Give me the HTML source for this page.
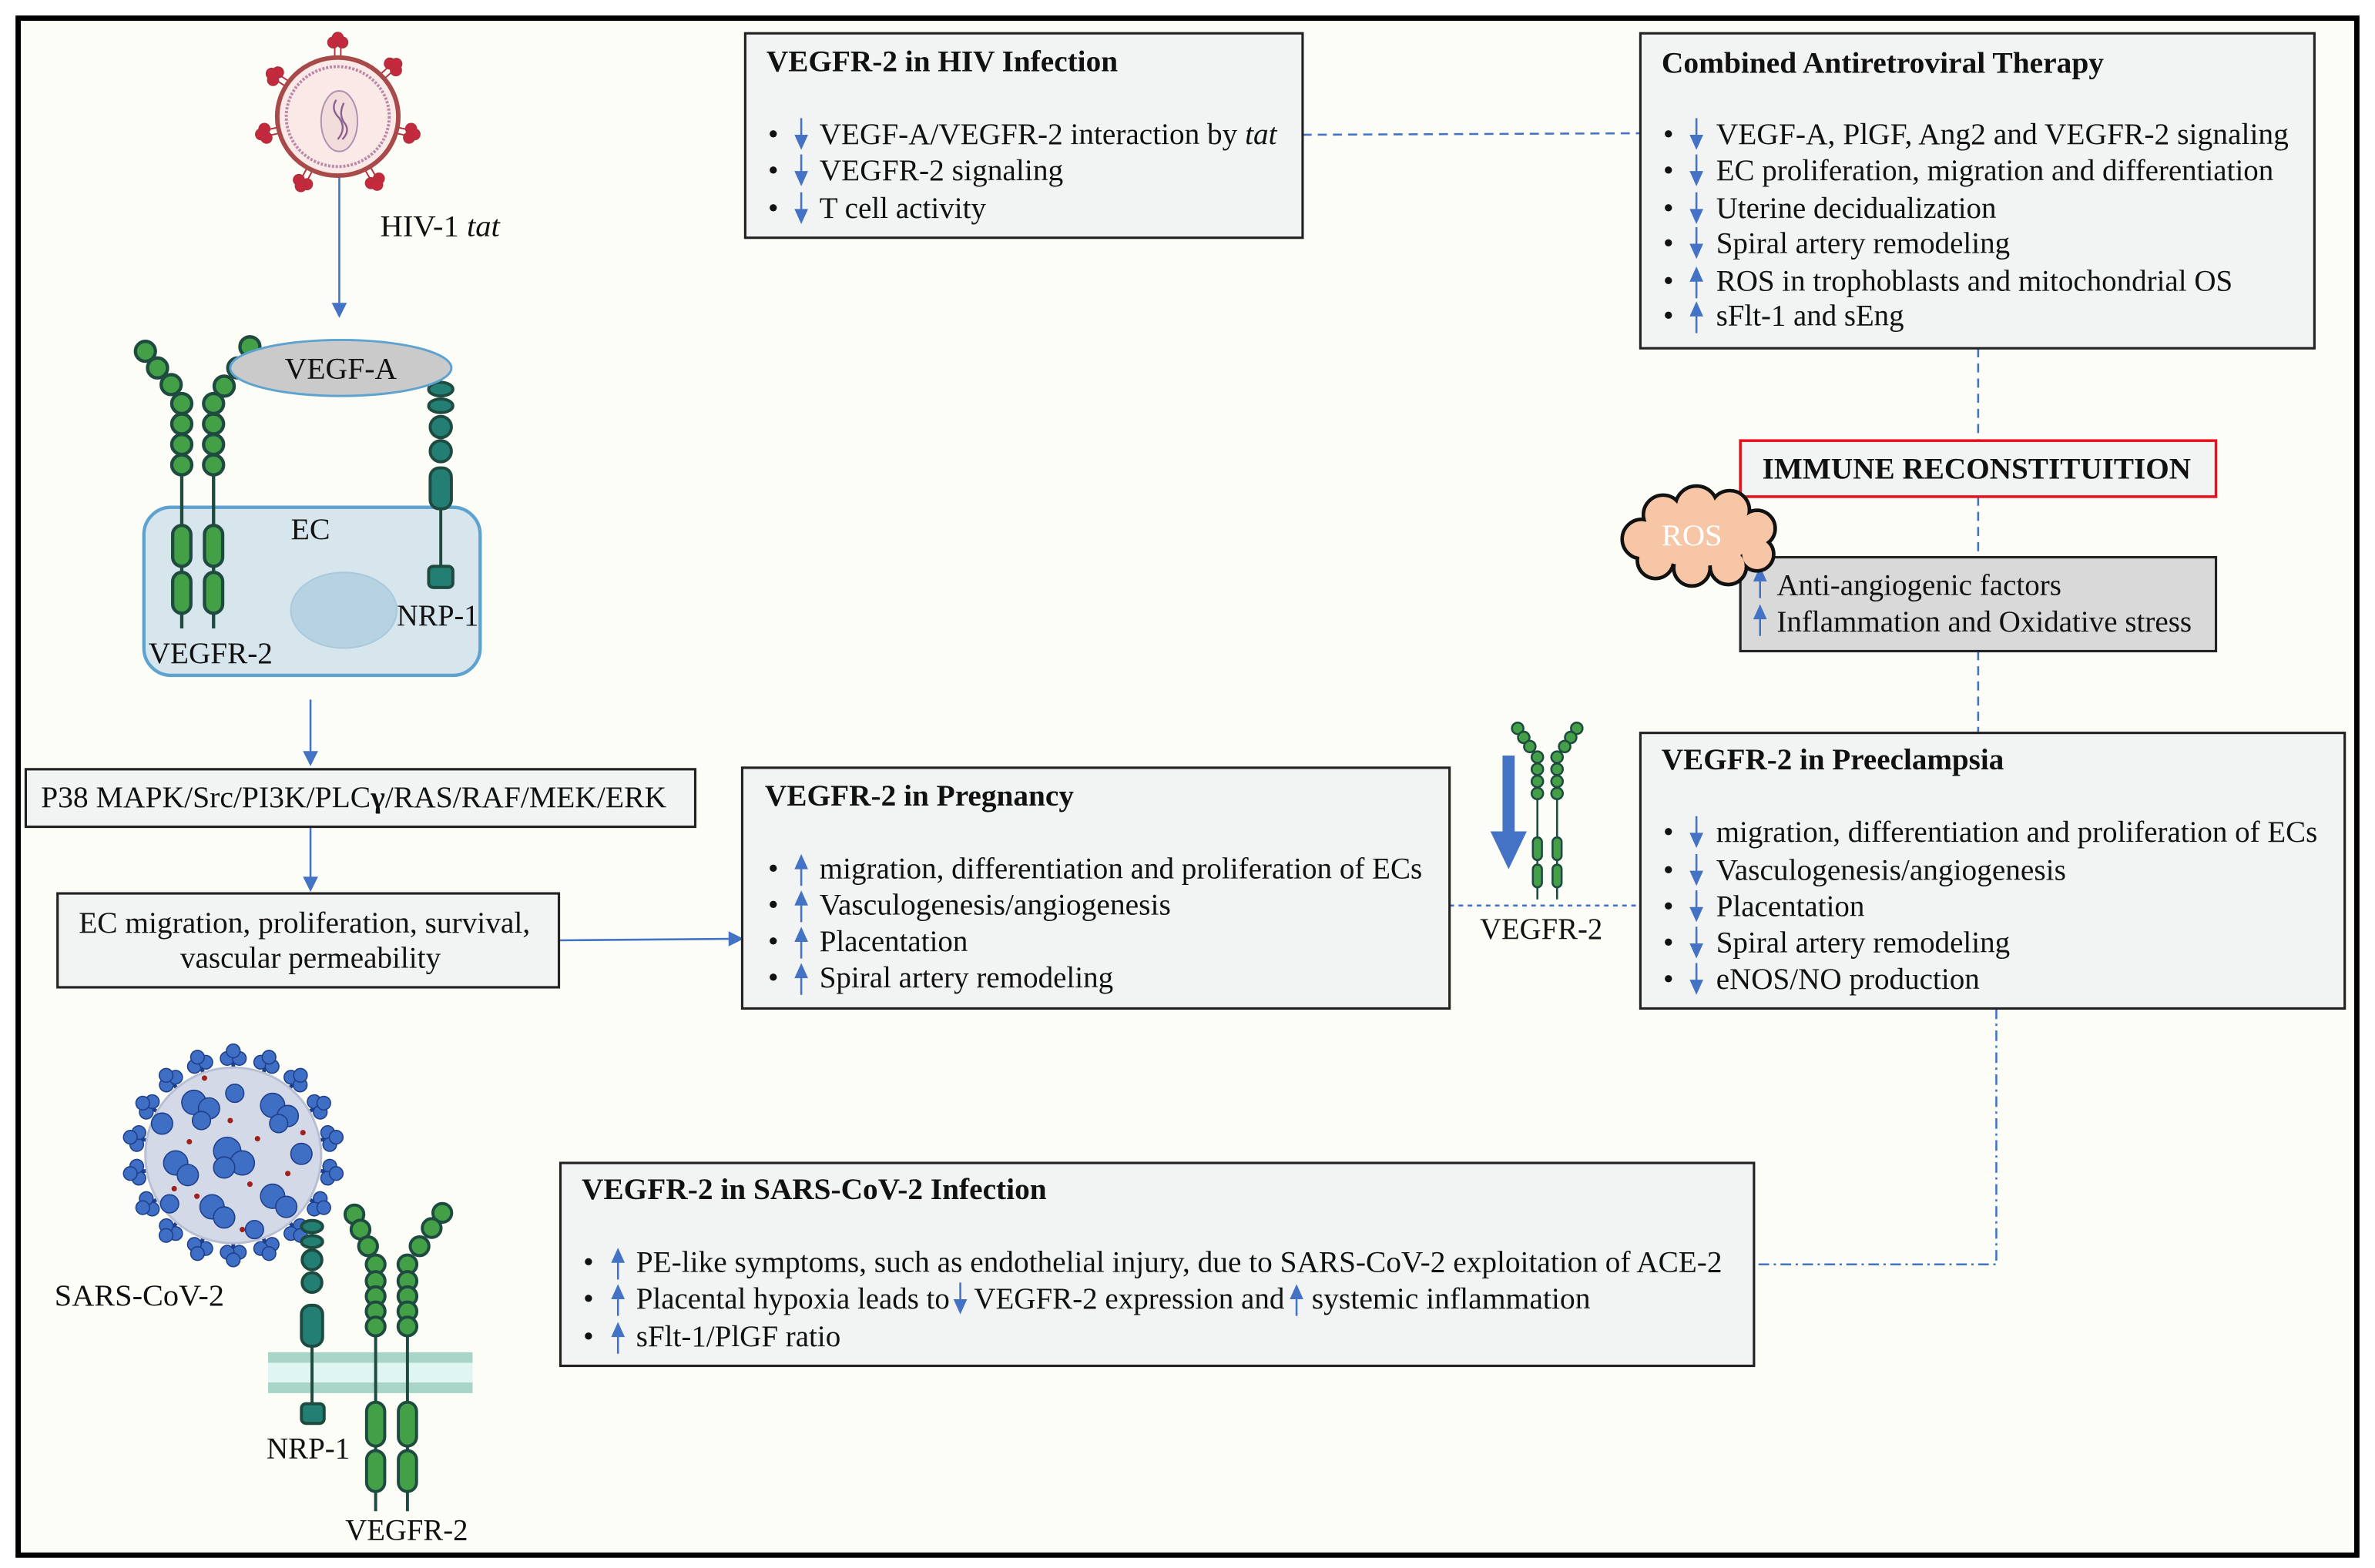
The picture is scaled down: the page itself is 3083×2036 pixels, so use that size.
<!DOCTYPE html>
<html><head><meta charset="utf-8"><style>
html,body{margin:0;padding:0;background:#fff}
svg{display:block;font-family:"Liberation Serif","Times New Roman",serif}
svg text{font-family:"Liberation Serif","Times New Roman",serif;fill:#111}
.t{font-weight:bold;font-size:20px}
.b{font-size:20px}
</style></head><body>
<svg width="3083" height="2036" viewBox="0 0 1568 1035.5" xmlns="http://www.w3.org/2000/svg" font-family="Liberation Serif, serif">
<defs>
<g id="dn"><line x1="0" y1="-11" x2="0" y2="2" stroke="#4472c4" stroke-width="1.3"/><path d="M-4.5,0 L4.5,0 L0,10 Z" fill="#4472c4"/></g>
<g id="up"><line x1="0" y1="11" x2="0" y2="-2" stroke="#4472c4" stroke-width="1.3"/><path d="M-4.5,0 L4.5,0 L0,-10 Z" fill="#4472c4"/></g>
<g id="ah"><path d="M-5,-10 L5,-10 L0,0 Z" fill="#4472c4"/></g>
<g id="hs" fill="#c8283c" stroke="#b03040" stroke-width="1"><line x1="-2" y1="-38" x2="-2" y2="-46"/><line x1="2" y1="-38" x2="2" y2="-46"/><circle cx="-3" cy="-49" r="3.5"/><circle cx="3" cy="-49" r="3.5"/><circle cx="0" cy="-52" r="3.5"/></g>
<g id="ss"><line x1="0" y1="-52" x2="0" y2="-62" stroke="#1f3f8a" stroke-width="2.5"/><g fill="#3f6fc4" stroke="#1f3f8a" stroke-width="0.8"><circle cx="-4" cy="-64" r="4.5"/><circle cx="4" cy="-64" r="4.5"/><circle cx="0" cy="-69" r="4.5"/></g></g>
</defs>
<rect x="0" y="0" width="1568" height="1035.5" fill="#fff"/>
<rect x="12" y="12" width="1544" height="1015" fill="#fdfdf8" stroke="#000" stroke-width="3.5"/>

<g stroke="#4472c4" stroke-width="1.3" fill="none">
<line x1="860" y1="89" x2="1083" y2="88" stroke-dasharray="6,4"/>
<line x1="1306" y1="230" x2="1306" y2="291" stroke-dasharray="6,4"/>
<line x1="1306" y1="328" x2="1306" y2="368" stroke-dasharray="6,4"/>
<line x1="1306" y1="430" x2="1306" y2="484" stroke-dasharray="6,4"/>
<line x1="957" y1="598" x2="1083" y2="598" stroke-dasharray="3,3"/>
<path d="M1318,666 L1318,835 L1158,835" stroke-dasharray="7,3,1.5,3"/>
<line x1="224" y1="100" x2="224" y2="202"/>
<line x1="205" y1="462" x2="205" y2="497"/>
<line x1="205" y1="546" x2="205" y2="580"/>
<line x1="369" y1="621" x2="482" y2="620"/>
</g>
<use href="#ah" x="224" y="210"/>
<use href="#ah" x="205" y="506"/>
<use href="#ah" x="205" y="589"/>
<path d="M481,615 L491,620 L481,625 Z" fill="#4472c4"/>

<!-- HIV virus -->
<g transform="translate(223,77)">
<use href="#hs" transform="rotate(0)"/><use href="#hs" transform="rotate(48)"/><use href="#hs" transform="rotate(103)"/><use href="#hs" transform="rotate(150)"/><use href="#hs" transform="rotate(208)"/><use href="#hs" transform="rotate(257)"/><use href="#hs" transform="rotate(303)"/>
</g>
<ellipse cx="223" cy="77" rx="40" ry="39" fill="#fbe9e8" stroke="#a84a4a" stroke-width="3"/>
<ellipse cx="223" cy="77" rx="34" ry="33" fill="none" stroke="#b88aa8" stroke-width="2" stroke-dasharray="1.5,1"/>
<ellipse cx="224" cy="80" rx="12" ry="20" fill="#f2dcdc" stroke="#b090b0" stroke-width="1"/>
<path d="M222,66 q-4,6 2,12 q5,7 -1,14 M227,68 q-4,8 1,14 q3,5 -2,10" stroke="#8a6090" stroke-width="1.2" fill="none"/>
<text class="b" x="251" y="156" textLength="79" lengthAdjust="spacingAndGlyphs">HIV-1 <tspan font-style="italic">tat</tspan></text>

<!-- cell -->
<rect x="95" y="335" width="222" height="111" rx="18" fill="#d7e5ed" stroke="#5ea3d0" stroke-width="2.2"/>
<ellipse cx="227" cy="403" rx="35" ry="25" fill="#b7d3e2" stroke="#a8c8dc" stroke-width="1"/>
<g stroke="#1e4a40" stroke-width="2.2" fill="#43a047">
<line x1="120" y1="300" x2="120" y2="415"/>
<line x1="141" y1="300" x2="141" y2="415"/>
<circle cx="96" cy="232" r="6.6"/><circle cx="104" cy="243" r="6.6"/><circle cx="113" cy="254" r="6.6"/>
<circle cx="120" cy="266.5" r="6.6"/><circle cx="120" cy="280" r="6.6"/><circle cx="120" cy="293.5" r="6.6"/><circle cx="120" cy="307" r="6.6"/>
<circle cx="165" cy="229" r="6.6"/><circle cx="157" cy="243" r="6.6"/><circle cx="148" cy="255" r="6.6"/>
<circle cx="141" cy="266.5" r="6.6"/><circle cx="141" cy="280" r="6.6"/><circle cx="141" cy="293.5" r="6.6"/><circle cx="141" cy="307" r="6.6"/>
<rect x="114" y="347" width="12" height="27" rx="6"/><rect x="114" y="378" width="12" height="27" rx="6"/>
<rect x="135" y="347" width="12" height="27" rx="6"/><rect x="135" y="378" width="12" height="27" rx="6"/>
</g>
<g stroke="#1e4a40" stroke-width="2" fill="#237f73">
<line x1="291" y1="330" x2="291" y2="378"/>
<ellipse cx="291" cy="257" rx="8" ry="4.5"/><ellipse cx="291" cy="268" rx="8" ry="4.5"/>
<circle cx="291" cy="282" r="7"/><circle cx="291" cy="298" r="7"/>
<rect x="284" y="309" width="14" height="27" rx="6"/>
<rect x="283" y="374" width="16" height="14" rx="3"/>
</g>
<ellipse cx="225" cy="243" rx="73" ry="18.5" fill="#cacaca" stroke="#5ea3d0" stroke-width="1.5"/>
<text class="b" x="225" y="250" text-anchor="middle" textLength="74" lengthAdjust="spacingAndGlyphs">VEGF-A</text>
<text class="b" x="192" y="356" textLength="26" lengthAdjust="spacingAndGlyphs">EC</text>
<text class="b" x="262" y="413" textLength="54" lengthAdjust="spacingAndGlyphs">NRP-1</text>
<text class="b" x="98" y="438" textLength="82" lengthAdjust="spacingAndGlyphs">VEGFR-2</text>

<!-- HIV box -->
<rect x="492" y="22" width="368" height="135" fill="#f2f4f4" stroke="#222" stroke-width="1.6"/>
<text class="t" x="506" y="47" textLength="232" lengthAdjust="spacingAndGlyphs">VEGFR-2 in HIV Infection</text>
<text class="b" x="507" y="95">•</text><use href="#dn" x="529" y="89"/><text class="b" x="541" y="95" textLength="302" lengthAdjust="spacingAndGlyphs">VEGF-A/VEGFR-2 interaction by <tspan font-style="italic">tat</tspan></text>
<text class="b" x="507" y="119">•</text><use href="#dn" x="529" y="113"/><text class="b" x="541" y="119" textLength="161" lengthAdjust="spacingAndGlyphs">VEGFR-2 signaling</text>
<text class="b" x="507" y="144">•</text><use href="#dn" x="529" y="138"/><text class="b" x="541" y="144" textLength="110" lengthAdjust="spacingAndGlyphs">T cell activity</text>

<!-- CART box -->
<rect x="1083" y="22" width="445" height="208" fill="#f2f4f4" stroke="#222" stroke-width="1.6"/>
<text class="t" x="1097" y="48" textLength="292" lengthAdjust="spacingAndGlyphs">Combined Antiretroviral Therapy</text>
<text class="b" x="1098" y="95">•</text><use href="#dn" x="1120" y="89"/><text class="b" x="1133" y="95" textLength="378" lengthAdjust="spacingAndGlyphs">VEGF-A, PlGF, Ang2 and VEGFR-2 signaling</text>
<text class="b" x="1098" y="119">•</text><use href="#dn" x="1120" y="113"/><text class="b" x="1133" y="119" textLength="368" lengthAdjust="spacingAndGlyphs">EC proliferation, migration and differentiation</text>
<text class="b" x="1098" y="144">•</text><use href="#dn" x="1120" y="138"/><text class="b" x="1133" y="144" textLength="185" lengthAdjust="spacingAndGlyphs">Uterine decidualization</text>
<text class="b" x="1098" y="167">•</text><use href="#dn" x="1120" y="161"/><text class="b" x="1133" y="167" textLength="194" lengthAdjust="spacingAndGlyphs">Spiral artery remodeling</text>
<text class="b" x="1098" y="192">•</text><use href="#up" x="1120" y="186"/><text class="b" x="1133" y="192" textLength="341" lengthAdjust="spacingAndGlyphs">ROS in trophoblasts and mitochondrial OS</text>
<text class="b" x="1098" y="215">•</text><use href="#up" x="1120" y="209"/><text class="b" x="1133" y="215" textLength="124" lengthAdjust="spacingAndGlyphs">sFlt-1 and sEng</text>

<rect x="1149" y="291" width="314" height="37" fill="#f2f4f4" stroke="#e8101c" stroke-width="1.8"/>
<text class="t" x="1305" y="316" text-anchor="middle" textLength="283" lengthAdjust="spacingAndGlyphs">IMMUNE RECONSTITUITION</text>

<rect x="1149" y="368" width="314" height="62" fill="#d9d9d9" stroke="#222" stroke-width="1.6"/>
<use href="#up" x="1162" y="384"/><text class="b" x="1173" y="393" textLength="188" lengthAdjust="spacingAndGlyphs">Anti-angiogenic factors</text>
<use href="#up" x="1162" y="409"/><text class="b" x="1173" y="417" textLength="274" lengthAdjust="spacingAndGlyphs">Inflammation and Oxidative stress</text>

<!-- ROS cloud -->
<g stroke="#111" stroke-width="2.4" fill="#f7c6a6">
<circle cx="1084" cy="356" r="13"/><circle cx="1098" cy="340" r="13"/><circle cx="1120" cy="335" r="14"/><circle cx="1142" cy="337" r="13"/><circle cx="1160" cy="349" r="12"/><circle cx="1160" cy="366" r="11"/><circle cx="1141" cy="374" r="12"/><circle cx="1117" cy="375" r="12"/><circle cx="1093" cy="370" r="12"/>
</g>
<g fill="#f7c6a6">
<circle cx="1084" cy="356" r="11.8"/><circle cx="1098" cy="340" r="11.8"/><circle cx="1120" cy="335" r="12.8"/><circle cx="1142" cy="337" r="11.8"/><circle cx="1160" cy="349" r="10.8"/><circle cx="1160" cy="366" r="9.8"/><circle cx="1141" cy="374" r="10.8"/><circle cx="1117" cy="375" r="10.8"/><circle cx="1093" cy="370" r="10.8"/>
<ellipse cx="1120" cy="356" rx="36" ry="18"/>
</g>
<text class="b" x="1097" y="360" style="fill:#fff" textLength="40" lengthAdjust="spacingAndGlyphs">ROS</text>

<rect x="17" y="508" width="442" height="38" fill="#f2f4f4" stroke="#222" stroke-width="1.6"/>
<text class="b" x="27" y="533" textLength="413" lengthAdjust="spacingAndGlyphs">P38 MAPK/Src/PI3K/PLC<tspan font-weight="bold">γ</tspan>/RAS/RAF/MEK/ERK</text>
<rect x="38" y="590" width="331" height="62" fill="#f2f4f4" stroke="#222" stroke-width="1.6"/>
<text class="b" x="52" y="616" textLength="298" lengthAdjust="spacingAndGlyphs">EC migration, proliferation, survival,</text>
<text class="b" x="119" y="639" textLength="172" lengthAdjust="spacingAndGlyphs">vascular permeability</text>

<rect x="490" y="507" width="467" height="159" fill="#f2f4f4" stroke="#222" stroke-width="1.6"/>
<text class="t" x="505" y="532" textLength="204" lengthAdjust="spacingAndGlyphs">VEGFR-2 in Pregnancy</text>
<text class="b" x="507" y="580">•</text><use href="#up" x="529" y="574"/><text class="b" x="541" y="580" textLength="398" lengthAdjust="spacingAndGlyphs">migration, differentiation and proliferation of ECs</text>
<text class="b" x="507" y="604">•</text><use href="#up" x="529" y="598"/><text class="b" x="541" y="604" textLength="232" lengthAdjust="spacingAndGlyphs">Vasculogenesis/angiogenesis</text>
<text class="b" x="507" y="628">•</text><use href="#up" x="529" y="622"/><text class="b" x="541" y="628" textLength="98" lengthAdjust="spacingAndGlyphs">Placentation</text>
<text class="b" x="507" y="652">•</text><use href="#up" x="529" y="646"/><text class="b" x="541" y="652" textLength="194" lengthAdjust="spacingAndGlyphs">Spiral artery remodeling</text>

<path d="M992,499 L1000,499 L1000,549 L1008,549 L996,574 L984,549 L992,549 Z" fill="#4472c4"/>
<g stroke="#1e4a40" stroke-width="1.3" fill="#43a047">
<line x1="1015" y1="520" x2="1015" y2="594"/><line x1="1028" y1="520" x2="1028" y2="594"/>
<circle cx="1002" cy="481" r="3.8"/><circle cx="1006" cy="487" r="3.8"/><circle cx="1010" cy="493" r="3.8"/>
<circle cx="1015" cy="500" r="3.8"/><circle cx="1015" cy="508" r="3.8"/><circle cx="1015" cy="516" r="3.8"/><circle cx="1015" cy="524" r="3.8"/>
<circle cx="1041" cy="481" r="3.8"/><circle cx="1037" cy="487" r="3.8"/><circle cx="1033" cy="493" r="3.8"/>
<circle cx="1028" cy="500" r="3.8"/><circle cx="1028" cy="508" r="3.8"/><circle cx="1028" cy="516" r="3.8"/><circle cx="1028" cy="524" r="3.8"/>
<rect x="1012" y="553" width="6" height="15" rx="3"/><rect x="1012" y="571" width="6" height="15" rx="3"/>
<rect x="1025" y="553" width="6" height="15" rx="3"/><rect x="1025" y="571" width="6" height="15" rx="3"/>
</g>
<text class="b" x="977" y="620" textLength="81" lengthAdjust="spacingAndGlyphs">VEGFR-2</text>

<rect x="1083" y="484" width="465" height="182" fill="#f2f4f4" stroke="#222" stroke-width="1.6"/>
<text class="t" x="1097" y="508" textLength="226" lengthAdjust="spacingAndGlyphs">VEGFR-2 in Preeclampsia</text>
<text class="b" x="1098" y="556">•</text><use href="#dn" x="1120" y="550"/><text class="b" x="1133" y="556" textLength="397" lengthAdjust="spacingAndGlyphs">migration, differentiation and proliferation of ECs</text>
<text class="b" x="1098" y="581">•</text><use href="#dn" x="1120" y="575"/><text class="b" x="1133" y="581" textLength="231" lengthAdjust="spacingAndGlyphs">Vasculogenesis/angiogenesis</text>
<text class="b" x="1098" y="605">•</text><use href="#dn" x="1120" y="599"/><text class="b" x="1133" y="605" textLength="98" lengthAdjust="spacingAndGlyphs">Placentation</text>
<text class="b" x="1098" y="629">•</text><use href="#dn" x="1120" y="623"/><text class="b" x="1133" y="629" textLength="194" lengthAdjust="spacingAndGlyphs">Spiral artery remodeling</text>
<text class="b" x="1098" y="653">•</text><use href="#dn" x="1120" y="647"/><text class="b" x="1133" y="653" textLength="174" lengthAdjust="spacingAndGlyphs">eNOS/NO production</text>

<rect x="370" y="768" width="788" height="134" fill="#f2f4f4" stroke="#222" stroke-width="1.6"/>
<text class="t" x="384" y="792" textLength="307" lengthAdjust="spacingAndGlyphs">VEGFR-2 in SARS-CoV-2 Infection</text>
<text class="b" x="385" y="840">•</text><use href="#up" x="408" y="834"/><text class="b" x="420" y="840" textLength="717" lengthAdjust="spacingAndGlyphs">PE-like symptoms, such as endothelial injury, due to SARS-CoV-2 exploitation of ACE-2</text>
<text class="b" x="385" y="864">•</text><use href="#up" x="408" y="858"/><text class="b" x="420" y="864" textLength="207" lengthAdjust="spacingAndGlyphs">Placental hypoxia leads to</text>
<use href="#dn" x="634" y="858"/><text class="b" x="643" y="864" textLength="205" lengthAdjust="spacingAndGlyphs">VEGFR-2 expression and</text>
<use href="#up" x="856" y="858"/><text class="b" x="866" y="864" textLength="184" lengthAdjust="spacingAndGlyphs">systemic inflammation</text>
<text class="b" x="385" y="889">•</text><use href="#up" x="408" y="883"/><text class="b" x="420" y="889" textLength="135" lengthAdjust="spacingAndGlyphs">sFlt-1/PlGF ratio</text>

<!-- SARS virus -->
<g transform="translate(154,763)">
<use href="#ss" transform="rotate(0)"/><use href="#ss" transform="rotate(20)"/><use href="#ss" transform="rotate(40)"/><use href="#ss" transform="rotate(60)"/><use href="#ss" transform="rotate(80)"/><use href="#ss" transform="rotate(100)"/><use href="#ss" transform="rotate(120)"/><use href="#ss" transform="rotate(140)"/><use href="#ss" transform="rotate(160)"/><use href="#ss" transform="rotate(180)"/><use href="#ss" transform="rotate(200)"/><use href="#ss" transform="rotate(220)"/><use href="#ss" transform="rotate(240)"/><use href="#ss" transform="rotate(260)"/><use href="#ss" transform="rotate(280)"/><use href="#ss" transform="rotate(300)"/><use href="#ss" transform="rotate(320)"/><use href="#ss" transform="rotate(340)"/>
</g>
<circle cx="154" cy="763" r="58" fill="#d4d9e8" stroke="#b8bfd4" stroke-width="1.5"/>
<g fill="#3f6fc4" stroke="#1f3f8a" stroke-width="0.8">
<circle cx="128" cy="728" r="8"/><circle cx="138" cy="732" r="7"/><circle cx="133" cy="740" r="6"/>
<circle cx="180" cy="730" r="8"/><circle cx="190" cy="737" r="7"/><circle cx="184" cy="742" r="6"/>
<circle cx="150" cy="760" r="9"/><circle cx="160" cy="768" r="8"/><circle cx="148" cy="771" r="7"/>
<circle cx="116" cy="768" r="8"/><circle cx="124" cy="776" r="7"/>
<circle cx="180" cy="790" r="8"/><circle cx="189" cy="797" r="7"/>
<circle cx="140" cy="797" r="8"/><circle cx="148" cy="804" r="7"/>
<circle cx="199" cy="762" r="7"/><circle cx="107" cy="742" r="7"/><circle cx="155" cy="722" r="6"/><circle cx="112" cy="795" r="6"/><circle cx="168" cy="812" r="6"/>
</g>
<g fill="#a0201c">
<circle cx="152" cy="740" r="1.8"/><circle cx="170" cy="752" r="1.8"/><circle cx="125" cy="754" r="1.8"/><circle cx="165" cy="782" r="1.8"/><circle cx="130" cy="790" r="1.8"/><circle cx="190" cy="775" r="1.8"/><circle cx="115" cy="785" r="1.8"/><circle cx="160" cy="812" r="1.8"/><circle cx="135" cy="712" r="1.8"/><circle cx="200" cy="748" r="1.8"/>
</g>
<rect x="177" y="893" width="135" height="27" fill="#def5f1"/>
<rect x="177" y="893" width="135" height="7" fill="#a9d5c8"/>
<rect x="177" y="913" width="135" height="7" fill="#a9d5c8"/>
<g stroke="#1e4a40" stroke-width="2" fill="#237f73">
<line x1="206" y1="880" x2="206" y2="930"/>
<ellipse cx="206" cy="810" rx="7" ry="4"/><ellipse cx="206" cy="820" rx="7" ry="4"/>
<circle cx="206" cy="832" r="6.5"/><circle cx="206" cy="847" r="6.5"/>
<rect x="199" y="862" width="14" height="27" rx="6"/>
<rect x="199" y="927" width="15" height="13" rx="3"/>
</g>
<g stroke="#1e4a40" stroke-width="2" fill="#43a047">
<line x1="248" y1="870" x2="248" y2="998"/><line x1="269" y1="870" x2="269" y2="998"/>
<circle cx="234" cy="802" r="6.2"/><circle cx="238" cy="812" r="6.2"/><circle cx="243" cy="823" r="6.2"/><circle cx="248" cy="835" r="6.2"/>
<circle cx="248" cy="846" r="6.2"/><circle cx="248" cy="856" r="6.2"/><circle cx="248" cy="866" r="6.2"/><circle cx="248" cy="876" r="6.2"/>
<circle cx="292" cy="801" r="6.2"/><circle cx="285" cy="811" r="6.2"/><circle cx="277" cy="823" r="6.2"/><circle cx="269" cy="835" r="6.2"/>
<circle cx="269" cy="846" r="6.2"/><circle cx="269" cy="856" r="6.2"/><circle cx="269" cy="866" r="6.2"/><circle cx="269" cy="876" r="6.2"/>
<rect x="242" y="926" width="12" height="29" rx="6"/><rect x="242" y="958" width="12" height="27" rx="6"/>
<rect x="263" y="926" width="12" height="29" rx="6"/><rect x="263" y="958" width="12" height="27" rx="6"/>
</g>
<text class="b" x="36" y="862" textLength="112" lengthAdjust="spacingAndGlyphs">SARS-CoV-2</text>
<text class="b" x="176" y="963" textLength="55" lengthAdjust="spacingAndGlyphs">NRP-1</text>
<text class="b" x="228" y="1017" textLength="81" lengthAdjust="spacingAndGlyphs">VEGFR-2</text>
</svg>
</body></html>
